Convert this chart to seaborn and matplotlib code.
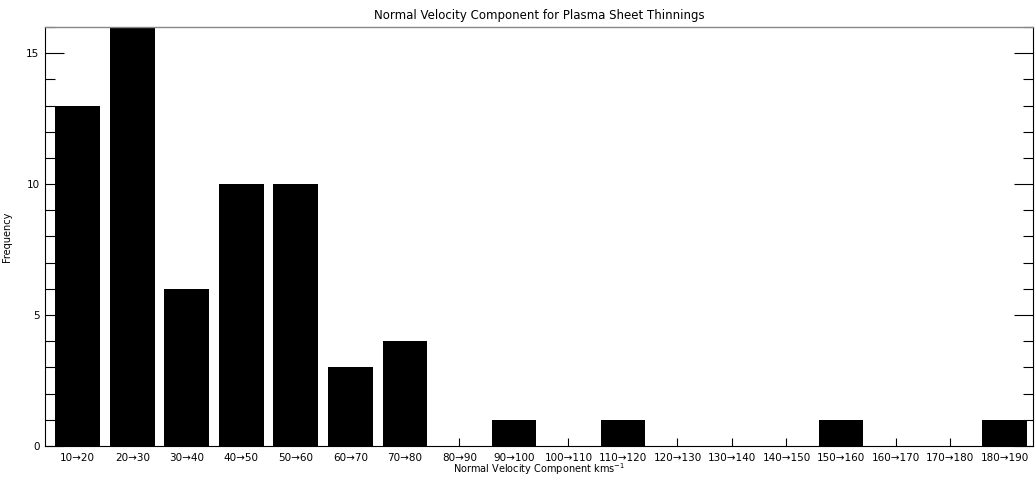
import matplotlib
matplotlib.use("Agg")
import matplotlib.pyplot as plt
from matplotlib.ticker import MultipleLocator
import seaborn as sns
import pandas as pd

# histogram bins (kms^-1) and counts
bins = ["10\u219220", "20\u219230", "30\u219240", "40\u219250", "50\u219260",
        "60\u219270", "70\u219280", "80\u219290", "90\u2192100", "100\u2192110",
        "110\u2192120", "120\u2192130", "130\u2192140", "140\u2192150",
        "150\u2192160", "160\u2192170", "170\u2192180", "180\u2192190"]
counts = [13, 16, 6, 10, 10, 3, 4, 0, 1, 0, 1, 0, 0, 0, 1, 0, 0, 1]

df = pd.DataFrame({"bin": bins, "count": counts})

sns.set_theme(style="ticks")
plt.rcParams["font.family"] = ["DejaVu Sans"]
plt.rcParams["text.color"] = "black"
plt.rcParams["axes.labelcolor"] = "black"
plt.rcParams["xtick.color"] = "black"
plt.rcParams["ytick.color"] = "black"

fig = plt.figure(figsize=(10.35, 4.78), dpi=100)
ax = fig.add_axes([0.0435, 0.067, 0.9545, 0.8765])

sns.barplot(data=df, x="bin", y="count", color="black", saturation=1,
            width=0.82, linewidth=0, ax=ax)

ax.set_ylim(0, 16)
ax.set_xlim(-0.6, 17.52)
ax.yaxis.set_major_locator(MultipleLocator(5))
ax.yaxis.set_minor_locator(MultipleLocator(1))
ax.tick_params(axis="y", which="major", direction="in", length=14, width=0.8,
               labelsize=7.5, right=True, pad=4)
ax.tick_params(axis="y", which="minor", direction="in", length=7, width=0.8,
               right=True)
ax.tick_params(axis="x", direction="in", length=6, width=0.8, labelsize=7.5,
               pad=5)

for side in ["left", "bottom", "right"]:
    ax.spines[side].set_color("black")
    ax.spines[side].set_linewidth(0.8)
ax.spines["top"].set_color("#888888")
ax.spines["top"].set_linewidth(1.0)

ax.set_xlabel("Normal Velocity Component kms$^{-1}$", fontsize=7, labelpad=-1)
ax.set_ylabel("Frequency", fontsize=7, labelpad=10)
ax.set_title("Normal Velocity Component for Plasma Sheet Thinnings",
             fontsize=8.5, pad=6)

fig.savefig("out.png", dpi=100)
plt.close(fig)
